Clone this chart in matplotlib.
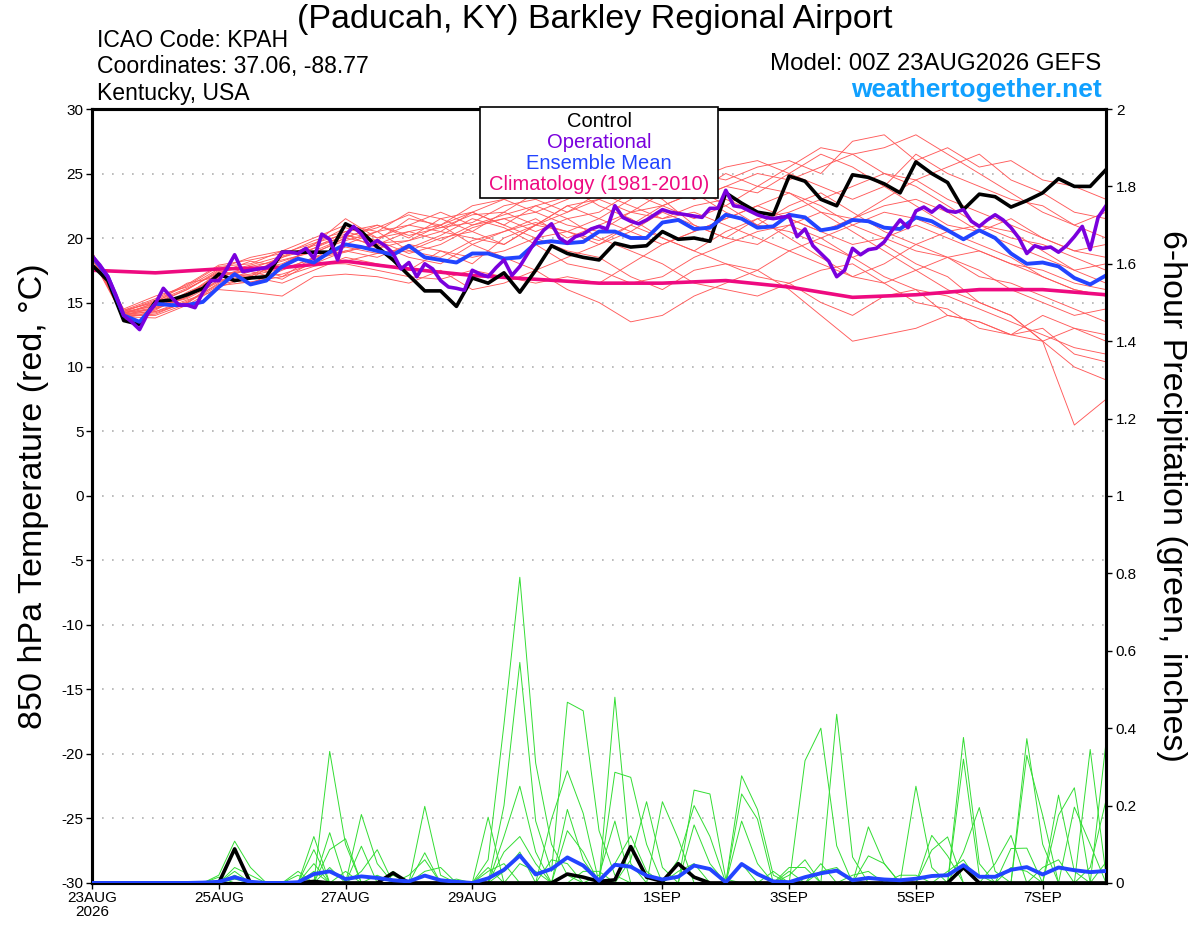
import numpy as np
import matplotlib
matplotlib.use("Agg")
import matplotlib.pyplot as plt
from matplotlib.patches import Rectangle

plt.rcParams['font.family'] = ['Liberation Sans', 'DejaVu Sans']
plt.rcParams['axes.unicode_minus'] = False

# ---- data ----
# 6-hourly steps, hours 0..384
control_t = [17.9, 16.7, 13.6, 13.3, 15.05, 15.2, 15.6, 16.1, 17.2, 16.7,
             16.9, 17.0, 18.9, 18.9, 18.9, 18.9, 21.1, 20.5, 19.3, 18.3,
             17.1, 15.9, 15.9, 14.7, 16.9, 16.5, 17.3, 15.8, 17.5, 19.4,
             18.8, 18.5, 18.3, 19.6, 19.3, 19.4, 20.5, 19.9, 20.0, 19.75,
             23.5, 22.7, 22.0, 21.8, 24.8, 24.4, 23.0, 22.5, 24.9, 24.7,
             24.2, 23.5, 25.9, 25.0, 24.3, 22.2, 23.4, 23.2, 22.4, 22.9,
             23.5, 24.6, 24.0, 24.0, 25.3]

mean_t = [18.6, 17.0, 14.0, 13.5, 14.9, 14.8, 14.8, 15.05, 16.2, 17.2,
          16.4, 16.7, 17.8, 18.4, 18.1, 18.9, 19.5, 19.3, 19.0, 18.7,
          19.4, 18.5, 18.3, 18.1, 18.8, 18.8, 18.4, 18.5, 19.6, 19.75,
          19.6, 19.7, 20.5, 20.5, 20.0, 20.0, 21.2, 21.4, 20.7, 20.8,
          21.8, 21.5, 20.8, 20.9, 21.8, 21.6, 20.6, 20.8, 21.4, 21.3,
          20.8, 20.7, 21.6, 21.3, 20.6, 19.9, 20.6, 20.0, 18.8, 18.0,
          18.1, 17.8, 16.9, 16.4, 17.1]

# operational run, 3-hourly
oper_t = [18.6, 17.9, 17.0, 15.6, 14.0, 13.5, 12.9, 14.1, 14.9, 16.1,
          15.4, 14.8, 14.8, 14.6, 15.8, 16.7, 16.7, 17.6, 18.7, 17.4,
          17.5, 17.6, 17.7, 18.1, 18.9, 18.9, 18.8, 19.2, 18.4, 20.3,
          19.9, 18.3, 20.2, 20.9, 20.3, 19.4, 19.8, 19.4, 18.8, 17.6,
          18.1, 17.0, 18.0, 17.6, 16.7, 16.2, 16.1, 15.95, 17.5, 17.2,
          17.0, 17.7, 18.3, 17.1, 17.8, 18.8, 19.8, 20.6, 21.1, 20.0,
          19.6, 20.1, 20.3, 20.7, 20.9, 20.7, 22.5, 21.6, 21.3, 21.1,
          21.4, 21.8, 22.2, 22.0, 21.9, 21.8, 21.7, 21.6, 22.3, 22.3,
          23.7, 22.5, 22.4, 22.1, 21.8, 21.6, 21.5, 21.6, 21.7, 20.1,
          20.7, 19.4, 18.8, 18.2, 17.0, 17.5, 19.2, 18.7, 19.1, 19.2,
          19.7, 20.6, 21.4, 20.8, 22.1, 22.4, 22.0, 22.5, 22.1, 22.0,
          22.2, 21.3, 20.9, 21.4, 21.8, 21.4, 20.8, 20.0, 18.8, 19.4,
          19.2, 19.3, 18.9, 19.4, 20.1, 20.9, 19.1, 21.6, 22.5]

# climatology, daily
clim_t = [17.5, 17.3, 17.6, 17.7, 18.2, 17.6, 17.1, 16.8, 16.5, 16.5,
          16.7, 16.2, 15.4, 15.6, 16.0, 16.0, 15.6]

# ensemble members, 12-hourly
members_t = [
    [18.8, 14.2, 14.6, 15.4, 17.0, 17.5, 18.2, 19.0, 20.0, 19.5, 20.5, 19.8, 21.0, 21.5, 22.0, 23.0, 24.0,
     23.5, 24.2, 25.0, 24.5, 25.5, 26.0, 25.0, 27.5, 28.0, 26.0, 27.0, 25.5, 26.0, 24.5, 24.0, 23.0],
    [18.6, 14.0, 14.2, 15.0, 16.5, 17.8, 17.0, 18.5, 19.5, 20.5, 19.0, 20.0, 20.5, 19.5, 21.0, 22.5, 21.5,
     23.0, 24.5, 23.0, 24.0, 23.5, 25.0, 26.5, 25.5, 24.0, 26.5, 25.0, 24.0, 23.0, 22.5, 21.0, 22.0],
    [18.9, 14.4, 15.0, 16.0, 17.5, 16.8, 18.5, 19.5, 21.5, 20.0, 21.0, 20.5, 22.0, 21.0, 20.0, 19.0, 18.5,
     17.0, 16.0, 17.5, 18.0, 17.0, 16.5, 15.0, 14.0, 15.5, 16.0, 14.0, 13.5, 12.5, 13.0, 11.0, 10.4],
    [18.5, 13.9, 13.8, 14.8, 16.2, 17.0, 16.5, 17.5, 18.5, 18.0, 17.5, 19.0, 18.0, 20.0, 21.0, 22.0, 23.0,
     24.0, 23.0, 21.0, 20.0, 19.5, 21.0, 22.0, 20.5, 19.0, 17.5, 16.0, 15.0, 14.0, 12.0, 10.0, 9.0],
    [18.7, 14.1, 14.5, 15.5, 17.2, 17.5, 18.0, 19.2, 20.5, 19.8, 21.5, 21.0, 22.5, 23.0, 22.0, 21.0, 20.5,
     22.0, 23.5, 24.0, 22.5, 21.0, 22.5, 23.5, 22.0, 20.5, 19.5, 18.5, 17.0, 16.5, 15.5, 14.5, 13.5],
    [18.8, 14.3, 15.2, 16.3, 17.8, 18.0, 19.0, 18.8, 20.0, 21.0, 20.0, 21.5, 20.5, 22.0, 23.5, 24.0, 22.5,
     21.5, 20.0, 19.0, 18.0, 17.5, 16.0, 14.0, 12.0, 12.5, 13.0, 14.0, 13.5, 12.5, 12.0, 13.0, 12.5],
    [18.6, 14.0, 14.0, 14.9, 16.8, 16.5, 17.5, 18.5, 19.0, 19.5, 18.5, 18.0, 19.5, 18.5, 17.5, 16.0, 15.0,
     13.5, 14.0, 15.5, 16.5, 17.5, 19.0, 20.0, 21.0, 22.0, 21.5, 20.5, 19.5, 18.5, 17.0, 16.0, 15.5],
    [18.4, 13.8, 14.3, 15.2, 16.0, 15.8, 15.5, 17.0, 17.2, 17.0, 16.5, 17.5, 16.0, 16.5, 17.5, 18.5, 19.5,
     21.0, 22.5, 23.5, 25.0, 24.0, 25.5, 27.0, 26.5, 25.0, 24.0, 22.5, 21.0, 20.5, 19.0, 17.5, 16.5],
    [18.7, 14.2, 14.8, 15.6, 17.3, 18.2, 17.8, 19.5, 20.8, 20.0, 20.5, 21.0, 19.5, 20.5, 21.5, 20.0, 21.0,
     22.0, 21.5, 22.5, 23.0, 22.0, 21.5, 20.5, 19.5, 20.0, 21.0, 20.0, 19.0, 18.0, 17.5, 16.5, 16.0],
    [18.9, 14.5, 15.5, 16.2, 17.6, 18.5, 19.0, 20.0, 21.0, 20.5, 22.0, 21.5, 22.0, 23.0, 23.5, 24.0, 25.0,
     24.5, 23.5, 24.5, 25.5, 26.0, 25.0, 24.0, 23.0, 24.0, 22.5, 21.0, 20.5, 19.5, 18.5, 17.5, 18.0],
    [18.5, 14.0, 14.4, 15.8, 16.9, 17.2, 17.8, 18.0, 19.0, 18.5, 19.5, 19.0, 18.5, 19.0, 20.0, 20.5, 19.5,
     20.5, 22.0, 21.0, 20.0, 21.5, 22.0, 23.0, 24.0, 25.0, 24.5, 23.0, 22.0, 21.0, 20.0, 19.0, 18.5],
    [18.6, 14.1, 15.0, 16.5, 17.0, 17.6, 18.5, 19.2, 20.2, 19.8, 18.8, 19.5, 20.8, 21.5, 20.5, 21.5, 22.0,
     23.5, 22.5, 21.5, 22.5, 24.0, 23.5, 22.0, 21.5, 23.0, 24.5, 25.5, 26.5, 24.5, 23.5, 22.0, 21.5],
    [18.7, 14.3, 14.7, 15.3, 16.6, 17.4, 16.8, 18.2, 19.3, 18.8, 19.2, 20.2, 21.5, 20.8, 19.5, 18.0, 17.5,
     16.5, 17.0, 18.5, 19.5, 20.5, 21.0, 20.0, 18.5, 17.0, 16.0, 15.5, 14.5, 13.5, 12.5, 11.5, 11.0],
    [18.8, 14.2, 14.9, 16.0, 17.4, 17.0, 18.7, 19.8, 20.5, 21.0, 20.2, 20.8, 21.2, 22.5, 23.0, 22.0, 23.5,
     22.5, 21.5, 22.0, 21.0, 20.0, 19.0, 18.0, 17.0, 18.0, 19.5, 20.5, 21.0, 20.0, 19.5, 18.5, 17.5],
    [18.5, 13.9, 14.1, 15.1, 16.4, 16.9, 17.2, 18.0, 18.0, 17.5, 17.0, 16.8, 17.5, 17.0, 16.5, 17.0, 16.5,
     18.0, 19.5, 20.5, 21.5, 22.5, 23.5, 22.5, 21.0, 20.0, 19.0, 18.5, 17.5, 16.0, 15.0, 14.0, 14.5],
    [18.6, 14.0, 14.6, 15.7, 17.0, 17.8, 18.3, 18.9, 19.8, 20.5, 21.0, 22.0, 21.0, 21.8, 22.5, 23.2, 24.5,
     25.0, 24.0, 23.0, 24.0, 25.0, 24.5, 25.5, 26.5, 27.0, 28.0, 26.5, 25.0, 23.5, 22.0, 21.0, 20.0],
    [18.9, 14.4, 15.3, 16.4, 17.9, 18.3, 18.8, 19.6, 20.3, 19.2, 19.8, 20.5, 20.0, 19.5, 21.0, 22.5, 23.0,
     22.0, 22.5, 23.5, 22.0, 21.0, 20.5, 19.5, 18.5, 19.5, 18.0, 17.0, 15.0, 14.0, 12.0, 5.5, 7.5],
    [18.7, 14.1, 14.3, 15.0, 16.3, 16.6, 17.0, 17.8, 18.2, 18.8, 19.0, 18.5, 19.8, 20.5, 21.2, 20.5, 19.8,
     21.0, 20.0, 19.0, 20.5, 21.5, 20.0, 18.5, 17.0, 16.5, 17.5, 18.5, 19.0, 18.0, 17.0, 16.0, 15.5],
    [18.8, 14.3, 15.1, 16.1, 17.3, 17.9, 18.6, 19.4, 20.1, 20.8, 21.8, 20.8, 21.8, 22.0, 21.0, 20.5, 21.5,
     20.5, 19.5, 20.5, 21.5, 22.5, 21.5, 20.5, 21.5, 22.5, 23.0, 22.0, 20.5, 21.5, 20.0, 19.0, 19.5],
    [18.6, 14.2, 14.5, 15.4, 16.7, 17.1, 17.6, 18.4, 18.9, 19.6, 19.8, 21.0, 22.0, 21.0, 22.5, 21.5, 20.0,
     19.0, 18.0, 16.5, 16.0, 15.5, 16.5, 17.5, 18.0, 16.5, 15.0, 14.5, 13.0, 12.5, 14.0, 13.0, 12.0],
]

# 6-hour precipitation (inches), 6-hourly steps
control_p = [0, 0, 0, 0, 0, 0, 0, 0, 0, 0.088,
             0, 0, 0, 0, 0.004, 0, 0, 0, 0, 0.026,
             0, 0, 0, 0, 0, 0, 0, 0, 0, 0,
             0.023, 0.015, 0.004, 0.008, 0.094, 0.015, 0.004, 0.05, 0.015, 0,
             0, 0, 0, 0, 0, 0, 0, 0, 0, 0,
             0, 0, 0, 0, 0, 0.04, 0, 0, 0, 0,
             0, 0, 0, 0, 0]

mean_p = [0, 0, 0, 0, 0, 0, 0, 0.001, 0.003, 0.015,
          0.003, 0, 0, 0.002, 0.023, 0.03, 0.01, 0.017, 0.013, 0.007,
          0.004, 0.019, 0.007, 0.003, 0, 0.012, 0.034, 0.071, 0.022, 0.036,
          0.066, 0.045, 0.006, 0.047, 0.042, 0.019, 0.009, 0.016, 0.045, 0.036,
          0.002, 0.049, 0.023, 0.004, 0.002, 0.015, 0.025, 0.032, 0.007, 0.013,
          0.009, 0.007, 0.011, 0.018, 0.02, 0.046, 0.016, 0.016, 0.034, 0.041,
          0.022, 0.04, 0.033, 0.028, 0.031]

# members: {step index: inches}, other steps are dry
members_p = [
    {8: 0.02, 9: 0.108, 10: 0.04, 15: 0.34, 16: 0.1, 25: 0.06, 26: 0.41, 27: 0.79, 28: 0.31, 29: 0.1,
     30: 0.02, 33: 0.05, 34: 0.122, 35: 0.03, 41: 0.16, 42: 0.05, 52: 0.25, 53: 0.04, 59: 0.373,
     60: 0.1, 64: 0.054},
    {9: 0.04, 10: 0.02, 14: 0.12, 17: 0.177, 18: 0.05, 26: 0.2, 27: 0.57, 28: 0.16, 29: 0.03,
     30: 0.467, 31: 0.445, 32: 0.135, 33: 0.02, 38: 0.24, 39: 0.23, 40: 0.01, 45: 0.316, 46: 0.40,
     47: 0.096, 55: 0.376, 56: 0.05, 61: 0.227, 62: 0.03},
    {9: 0.03, 14: 0.086, 16: 0.03, 21: 0.198, 22: 0.02, 25: 0.17, 29: 0.165, 30: 0.29, 31: 0.18,
     33: 0.48, 34: 0.05, 41: 0.277, 42: 0.19, 43: 0.02, 49: 0.145, 50: 0.05, 55: 0.32, 56: 0.02,
     63: 0.345, 64: 0.02},
    {9: 0.02, 15: 0.086, 16: 0.114, 21: 0.078, 26: 0.12, 27: 0.25, 28: 0.08, 30: 0.19, 31: 0.06,
     33: 0.286, 34: 0.273, 35: 0.1, 38: 0.15, 39: 0.05, 44: 0.02, 45: 0.06},
    {8: 0.015, 13: 0.02, 15: 0.13, 30: 0.135, 31: 0.08, 47: 0.436, 48: 0.067},
    {9: 0.015, 15: 0.04, 17: 0.095, 32: 0.02, 33: 0.16, 49: 0.07, 50: 0.05},
    {9: 0.01, 17: 0.03, 18: 0.086, 34: 0.06, 35: 0.21, 36: 0.04, 53: 0.123, 54: 0.07},
    {13: 0.03, 18: 0.02, 36: 0.21, 37: 0.114, 53: 0.085, 54: 0.119},
    {14: 0.05, 19: 0.03, 37: 0.06, 38: 0.2, 39: 0.12, 55: 0.08, 56: 0.195, 57: 0.03},
    {14: 0.03, 19: 0.02, 37: 0.03, 38: 0.05, 41: 0.23, 42: 0.165, 57: 0.05, 58: 0.123},
    {20: 0.02, 21: 0.06, 41: 0.05, 43: 0.03, 58: 0.089, 59: 0.09},
    {21: 0.03, 22: 0.04, 44: 0.04, 45: 0.04, 59: 0.33, 60: 0.175},
    {23: 0.01, 25: 0.04, 44: 0.03, 46: 0.05, 61: 0.175, 62: 0.246},
    {25: 0.03, 26: 0.05, 46: 0.03, 47: 0.04, 62: 0.196, 63: 0.1},
    {26: 0.08, 27: 0.12, 28: 0.05, 48: 0.02, 49: 0.03, 64: 0.364},
    {26: 0.03, 27: 0.08, 51: 0.02, 52: 0.02},
    {27: 0.05, 28: 0.03, 54: 0.03, 55: 0.06},
    {29: 0.06, 30: 0.05, 58: 0.04, 59: 0.03},
    {31: 0.03, 32: 0.03, 60: 0.04, 61: 0.06},
    {63: 0.04, 64: 0.214},
]

tick_hours = [0, 48, 96, 144, 216, 264, 312, 360]
tick_labels = ['23AUG\n2026', '25AUG', '27AUG', '29AUG', '1SEP', '3SEP', '5SEP', '7SEP']

legend_names = ['Control', 'Operational', 'Ensemble Mean', 'Climatology (1981-2010)']
legend_cols = ['black', '#7a00dd', '#2244ff', '#ee0a80']

# ---- plot ----
fig = plt.figure(figsize=(12, 9.27), dpi=100)
ax = fig.add_axes([0.0767, 0.0475, 0.845, 0.8349])

h6 = np.arange(len(control_t)) * 6
h3 = np.arange(len(oper_t)) * 3
h24 = np.arange(len(clim_t)) * 24

for m in members_t:
    ax.plot(np.arange(len(m)) * 12, m, color='#ff5a5a', lw=0.65, zorder=2)

ax.plot(h24, clim_t, color='#ee0a80', lw=2.6, zorder=4)
ax.plot(h6, control_t, color='black', lw=2.6, zorder=5)
ax.plot(h6, mean_t, color='#2244ff', lw=2.8, zorder=6)
ax.plot(h3, oper_t, color='#7a00dd', lw=2.6, zorder=7)

ax.set_xlim(0, 384)
ax.set_ylim(-30, 30)
ax.set_yticks(np.arange(-30, 31, 5))
ax.set_yticklabels([str(v) for v in range(-30, 31, 5)], fontsize=11)
ax.set_xticks(tick_hours)
ax.set_xticklabels(tick_labels, fontsize=11, linespacing=0.95)
ax.tick_params(axis='both', direction='out', length=4, width=1, pad=2)
for v in range(-25, 30, 5):
    ax.axhline(v, color='#b0b0b0', lw=1.2, ls=(0, (1, 5)), zorder=1)
for s in ax.spines.values():
    s.set_linewidth(2.2)
ax.set_ylabel('850 hPa Temperature (red, °C)', fontsize=24.5, labelpad=9)

ax2 = ax.twinx()
for d in members_p:
    vals = np.zeros(len(mean_p))
    for k, v in d.items():
        vals[k] = v
    ax2.plot(h6, vals, color='#33dd33', lw=0.7, zorder=2)
ax2.plot(h6, control_p, color='black', lw=2.6, zorder=4)
ax2.plot(h6, mean_p, color='#2244ff', lw=2.8, zorder=5)
ax2.set_ylim(0, 2)
ax2.set_xlim(0, 384)
rt = np.round(np.arange(0, 2.01, 0.2), 1)
ax2.set_yticks(rt)
ax2.set_yticklabels([('%g' % v) for v in rt], fontsize=11)
ax2.tick_params(axis='y', direction='out', length=4, width=1, pad=3)
for s in ax2.spines.values():
    s.set_linewidth(2.2)
ax2.set_ylabel('6-hour Precipitation (green, inches)', fontsize=24.5, rotation=270, labelpad=36)

# legend box: coloured names only
ax2.add_patch(Rectangle((0.3826, 0.885), 0.2347, 0.1176, transform=ax2.transAxes,
                        facecolor='white', edgecolor='black', lw=1.2, zorder=20, clip_on=False))
for k, (name, c) in enumerate(zip(legend_names, legend_cols)):
    ax2.text(0.5, 0.9845 - k * 0.0275, name, color=c, fontsize=14.5, ha='center', va='center',
             transform=ax2.transAxes, zorder=21)

# header texts
fig.text(0.496, 0.9790, '(Paducah, KY) Barkley Regional Airport', ha='center', va='center', fontsize=24.5)
fig.text(0.081, 0.9560, 'ICAO Code: KPAH', ha='left', va='center', fontsize=16.6)
fig.text(0.081, 0.9280, 'Coordinates: 37.06, -88.77', ha='left', va='center', fontsize=16.6)
fig.text(0.081, 0.8990, 'Kentucky, USA', ha='left', va='center', fontsize=16.6)
fig.text(0.918, 0.931, 'Model: 00Z 23AUG2026 GEFS', ha='right', va='center', fontsize=17.3)
fig.text(0.918, 0.903, 'weathertogether.net', ha='right', va='center', fontsize=19,
         fontweight='bold', color='#10a0ff')

fig.savefig('out.png', dpi=100)
